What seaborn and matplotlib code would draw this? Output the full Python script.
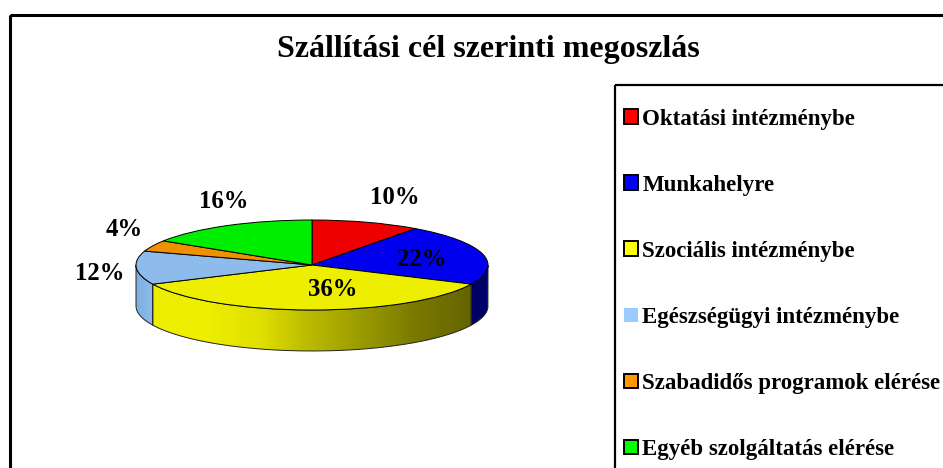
import numpy as np
import matplotlib
matplotlib.use("Agg")
import matplotlib.pyplot as plt
import seaborn as sns
from matplotlib.patches import Rectangle, PathPatch
from matplotlib.path import Path
from matplotlib.colors import LinearSegmentedColormap

title = "Szállítási cél szerinti megoszlás"
categories = ["Oktatási intézménybe", "Munkahelyre", "Szociális intézménybe",
              "Egészségügyi intézménybe", "Szabadidős programok elérése", "Egyéb szolgáltatás elérése"]
values = [10, 22, 36, 12, 4, 16]
top_colors = ["#EE0000", "#0000EE", "#EEEE00", "#8DBBEB", "#EE9000", "#00EE00"]
legend_colors = ["#FF0000", "#0000FF", "#FFFF00", "#99CCFF", "#FF9900", "#00FF00"]
side_colors = [["#700000", "#700000"], ["#000060", "#000070"],
               ["#EEEE00", "#EEEE00", "#E0E000", "#B8B800", "#989800", "#787800", "#646400"],
               ["#7FAEDF", "#8DBBEB"], ["#705000", "#705000"], ["#007000", "#007000"]]

W, H = 943, 468
sns.set_theme(style="white")
plt.rcParams["font.family"] = ["Liberation Serif", "DejaVu Serif"]
plt.rcParams["font.weight"] = "bold"

fig = plt.figure(figsize=(W / 100, H / 100), dpi=100, facecolor="white")

# page-pixel layer for the frames and the texts
bg = fig.add_axes([0, 0, 1, 1])
bg.set_xlim(0, W)
bg.set_ylim(H, 0)
bg.axis("off")
bg.add_patch(Rectangle((9.5, 15), W + 20, H + 20, fill=False, ec="black", lw=2.2))
bg.add_patch(Rectangle((615, 85), W + 20, H + 20, fill=False, ec="black", lw=1.6))
bg.text(488, 50, title, ha="center", va="center", fontsize=23, fontweight="bold", color="black")

# the pie: an ellipse 176x45 px round (312,265), with a 41 px rim
rx, ry, depth = 176, 45, 41
d = depth / ry
ax = fig.add_axes([(312 - rx) / W, 1 - (265 + ry + depth) / H, 2 * rx / W, (2 * ry + depth) / H])
wedges, _ = ax.pie(values, colors=top_colors, startangle=90, counterclock=False, radius=1,
                   wedgeprops=dict(edgecolor="black", linewidth=0.7), frame=False)
ax.set_aspect("auto")
ax.axis("off")
for w in wedges:
    w.set_zorder(5)
    w.set_clip_on(False)

for w, cols in zip(wedges, side_colors):
    for k in (-360, 0, 360):
        a1, a2 = max(w.theta1 + k, 180), min(w.theta2 + k, 360)
        if a2 <= a1:
            continue
        t = np.radians(np.linspace(a1, a2, 80))
        xs, ys = np.cos(t), np.sin(t)
        verts = np.r_[np.c_[xs, ys], np.c_[xs[::-1], ys[::-1] - d], [[xs[0], ys[0]]]]
        cmap = LinearSegmentedColormap.from_list("s", cols)
        im = ax.imshow(np.linspace(0, 1, 256)[None, :], cmap=cmap, aspect="auto", origin="lower",
                       extent=(xs.min(), xs.max(), -1 - d, 1), zorder=1)
        patch = PathPatch(Path(verts), transform=ax.transData, fc="none", ec="#222222", lw=0.7, zorder=2)
        patch.set_clip_on(False)
        ax.add_patch(patch)
        im.set_clip_path(patch)
ax.set_aspect("auto")
ax.set_xlim(-1, 1)
ax.set_ylim(-1 - d, 1)

# data labels
label_xy = [(395, 198), (422, 259), (333, 289), (100, 273), (124, 230), (224, 201)]
tx = fig.add_axes([0, 0, 1, 1], facecolor="none")
tx.set_xlim(0, W)
tx.set_ylim(H, 0)
tx.axis("off")
for v, (lx, ly) in zip(values, label_xy):
    tx.text(lx, ly, f"{v}%", ha="center", va="center", fontsize=17.8, fontweight="bold", color="black")

# legend
handles = [Rectangle((0, 0), 1, 1, fc=c, ec="none" if c == "#99CCFF" else "black", lw=1.4)
           for c in legend_colors]
fig.legend(handles, categories, loc="upper left", bbox_to_anchor=(624 / W, 1 - 108.5 / H),
           bbox_transform=fig.transFigure, frameon=False, labelspacing=1.97, labelcolor="black",
           handlelength=0.6, handleheight=0.6, handletextpad=0.2, borderpad=0, borderaxespad=0,
           prop=dict(family="Liberation Serif", weight="bold", size=16.5))

fig.savefig("out.png", dpi=100, facecolor="white")
